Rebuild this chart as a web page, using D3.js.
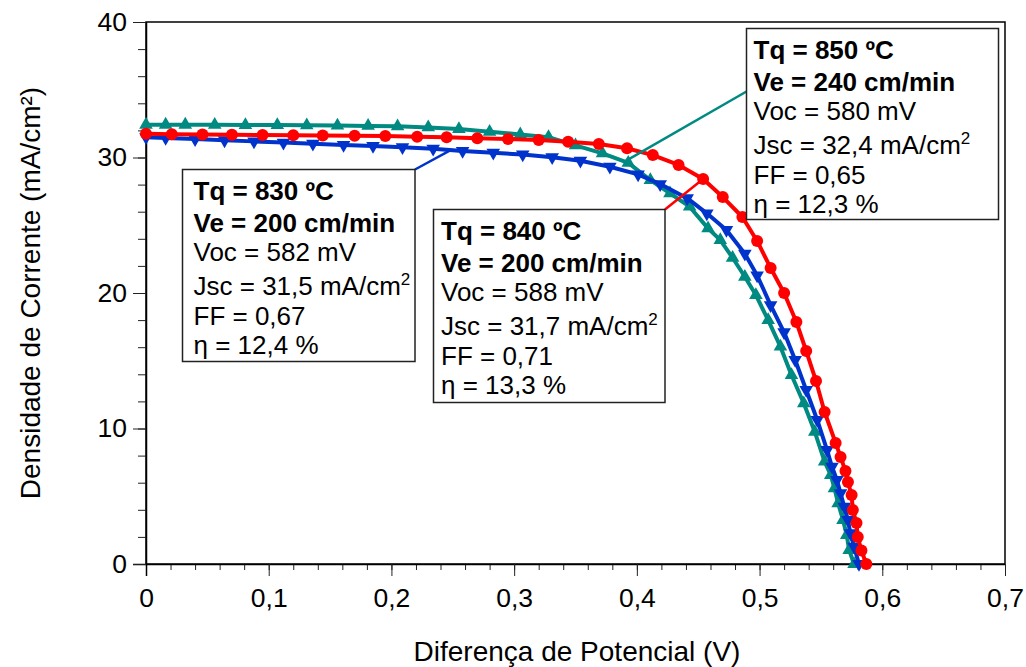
<!DOCTYPE html>
<html>
<head>
<meta charset="utf-8">
<script src="https://cdn.jsdelivr.net/npm/d3@7"></script>
<style>
body { margin: 0; background: #fff; }
svg text { font-family: Arial, "Liberation Sans", sans-serif; fill: #000; }
</style>
</head>
<body>
<svg width="1026" height="667"></svg>
<script>
// curvas J x V (V em volts, J em mA/cm2)
var v850 = [0, 0.016, 0.032, 0.056, 0.081, 0.107, 0.131, 0.156, 0.181, 0.205, 0.230, 0.255, 0.280, 0.305, 0.328, 0.350, 0.372, 0.393, 0.411, 0.427, 0.443, 0.458, 0.468, 0.478, 0.488, 0.497, 0.507, 0.517, 0.526, 0.536, 0.545, 0.553, 0.558, 0.561, 0.564, 0.568, 0.571, 0.573, 0.577];
var j850 = [32.42, 32.42, 32.42, 32.41, 32.40, 32.39, 32.38, 32.36, 32.33, 32.30, 32.22, 32.10, 31.90, 31.70, 31.50, 30.90, 30.30, 29.60, 28.34, 27.36, 26.37, 24.77, 23.91, 22.60, 21.20, 19.85, 18.00, 16.04, 13.95, 11.86, 9.76, 7.55, 6.57, 5.59, 4.48, 3.25, 2.14, 1.03, 0];

var v830 = [0, 0.016, 0.040, 0.064, 0.088, 0.112, 0.136, 0.161, 0.185, 0.209, 0.234, 0.258, 0.283, 0.307, 0.331, 0.354, 0.378, 0.401, 0.419, 0.441, 0.457, 0.473, 0.488, 0.498, 0.509, 0.520, 0.529, 0.538, 0.547, 0.555, 0.559, 0.563, 0.566, 0.569, 0.572, 0.574, 0.577, 0.581];
var j830 = [31.50, 31.44, 31.36, 31.27, 31.19, 31.10, 31.02, 30.93, 30.85, 30.76, 30.65, 30.48, 30.35, 30.22, 30.02, 29.76, 29.32, 28.75, 28.04, 27.00, 25.88, 24.65, 22.90, 21.30, 19.11, 17.10, 15.06, 12.84, 10.63, 8.41, 7.18, 6.20, 5.22, 4.23, 3.25, 2.27, 1.28, 0];

var v840 = [0, 0.021, 0.046, 0.070, 0.095, 0.120, 0.144, 0.170, 0.195, 0.221, 0.245, 0.270, 0.295, 0.320, 0.344, 0.369, 0.392, 0.413, 0.434, 0.454, 0.470, 0.486, 0.498, 0.509, 0.520, 0.530, 0.538, 0.546, 0.553, 0.562, 0.566, 0.570, 0.572, 0.575, 0.576, 0.579, 0.580, 0.583, 0.587];
var j840 = [31.75, 31.72, 31.70, 31.68, 31.66, 31.64, 31.62, 31.61, 31.59, 31.53, 31.49, 31.42, 31.37, 31.29, 31.17, 31.00, 30.68, 30.18, 29.45, 28.41, 27.08, 25.61, 23.84, 21.85, 20.00, 17.86, 15.72, 13.51, 11.22, 8.93, 7.90, 6.86, 6.05, 5.09, 3.99, 3.03, 1.99, 1.00, 0];

var xTicks = [0, 0.1, 0.2, 0.3, 0.4, 0.5, 0.6, 0.7];
var yTicks = [0, 10, 20, 30, 40];

var info850 = ["Tq = 850 ºC", "Ve = 240 cm/min", "Voc = 580 mV", "Jsc = 32,4 mA/cm", "FF = 0,65", "η = 12,3 %"];
var info830 = ["Tq = 830 ºC", "Ve = 200 cm/min", "Voc = 582 mV", "Jsc = 31,5 mA/cm", "FF = 0,67", "η = 12,4 %"];
var info840 = ["Tq = 840 ºC", "Ve = 200 cm/min", "Voc = 588 mV", "Jsc = 31,7 mA/cm", "FF = 0,71", "η = 13,3 %"];

var svg = d3.select('svg');
var x = d3.scaleLinear().domain([0, 0.7]).range([146, 1005]);
var y = d3.scaleLinear().domain([0, 40]).range([564, 22]);

var fmt = function(d) { return d === 0 ? '0' : d3.format('.1f')(d).replace('.', ','); };

// moldura
svg.append('rect')
   .attr('x', 146).attr('y', 22)
   .attr('width', 1005 - 146).attr('height', 564 - 22)
   .attr('fill', 'none').attr('stroke', '#000').attr('stroke-width', 1.5);

// eixo x: traços menores e maiores
svg.append('g')
   .attr('transform', 'translate(0,564)')
   .call(d3.axisBottom(x).tickValues(d3.range(0, 36).map(function(i) { return i * 0.02; }))
         .tickSize(6).tickFormat(''))
   .call(function(g) { g.select('.domain').remove(); });
svg.append('g')
   .attr('transform', 'translate(0,564)')
   .call(d3.axisBottom(x).tickValues(xTicks).tickSize(12).tickPadding(12).tickFormat(fmt))
   .call(function(g) {
     g.select('.domain').attr('stroke-width', 1.5).attr('d', 'M133,0.5H1005');
     g.selectAll('text').attr('font-size', 26.5).attr('font-family', 'Arial, Liberation Sans');
   });

// eixo y
svg.append('g')
   .attr('transform', 'translate(146,0)')
   .call(d3.axisLeft(y).tickValues(d3.range(0, 21).map(function(i) { return i * 2; }))
         .tickSize(8).tickFormat(''))
   .call(function(g) { g.select('.domain').remove(); });
svg.append('g')
   .attr('transform', 'translate(146,0)')
   .call(d3.axisLeft(y).tickValues(yTicks).tickSize(13).tickPadding(6))
   .call(function(g) {
     g.select('.domain').attr('stroke-width', 1.5).attr('d', 'M0.5,22V576');
     g.selectAll('text').attr('font-size', 26.5).attr('font-family', 'Arial, Liberation Sans');
   });

svg.selectAll('.tick line').attr('stroke', '#222');

// títulos dos eixos
svg.append('text')
   .attr('x', 577).attr('y', 661)
   .attr('text-anchor', 'middle').attr('font-size', 28)
   .text('Diferença de Potencial (V)');
svg.append('text')
   .attr('transform', 'translate(40,293) rotate(-90)')
   .attr('text-anchor', 'middle').attr('font-size', 28)
   .text('Densidade de Corrente (mA/cm²)');

// caixas de anotação com linha de ligação
function caixa(info, bx, by, bw, bh, pad, cor, x1, y1, x2, y2) {
  svg.append('line')
     .attr('x1', x1).attr('y1', y1).attr('x2', x2).attr('y2', y2)
     .attr('stroke', cor).attr('stroke-width', 2.5);
  svg.append('rect')
     .attr('x', bx).attr('y', by).attr('width', bw).attr('height', bh)
     .attr('fill', '#fff').attr('stroke', '#222').attr('stroke-width', 1.5);
  var dys = [30, 62, 91.5, 125.5, 155, 184.5];
  info.forEach(function(s, i) {
    var t = svg.append('text')
       .attr('x', bx + pad).attr('y', by + dys[i])
       .attr('font-size', 26)
       .attr('font-weight', i < 2 ? 'bold' : 'normal')
       .text(s);
    if (i === 3) {
      t.append('tspan').attr('dy', -10).attr('font-size', 17).text('2');
    }
  });
}

// curvas
function serie(vs, js, cor, marca) {
  var pts = vs.map(function(v, i) { return [v, js[i]]; });
  svg.append('path')
     .datum(pts)
     .attr('fill', 'none').attr('stroke', cor).attr('stroke-width', 4)
     .attr('stroke-linejoin', 'round')
     .attr('d', d3.line().x(function(d) { return x(d[0]); }).y(function(d) { return y(d[1]); }));
  var g = svg.append('g');
  if (marca === 'circle') {
    g.selectAll('circle').data(pts).enter().append('circle')
     .attr('cx', function(d) { return x(d[0]); })
     .attr('cy', function(d) { return y(d[1]); })
     .attr('r', 6).attr('fill', cor);
  } else {
    var rot = marca === 'down' ? 180 : 0;
    g.selectAll('path').data(pts).enter().append('path')
     .attr('d', d3.symbol().type(d3.symbolTriangle).size(80))
     .attr('transform', function(d) {
       return 'translate(' + x(d[0]) + ',' + y(d[1]) + ') rotate(' + rot + ')';
     })
     .attr('fill', cor);
  }
}

serie(v850, j850, '#008a82', 'up');
serie(v830, j830, '#0033cc', 'down');
serie(v840, j840, '#ff0000', 'circle');

caixa(info830, 182.5, 169.5, 232.5, 192, 11, '#0033cc', 415, 169.5, x(0.249), y(30.58));
caixa(info840, 433.5, 209.5, 231.5, 193, 7.5, '#ff0000', 665, 209.5, x(0.454), y(28.41));
caixa(info850, 746.5, 28.5, 252, 191, 7, '#008a82', 746.5, 91.5, x(0.390), y(29.7));
</script>
</body>
</html>
